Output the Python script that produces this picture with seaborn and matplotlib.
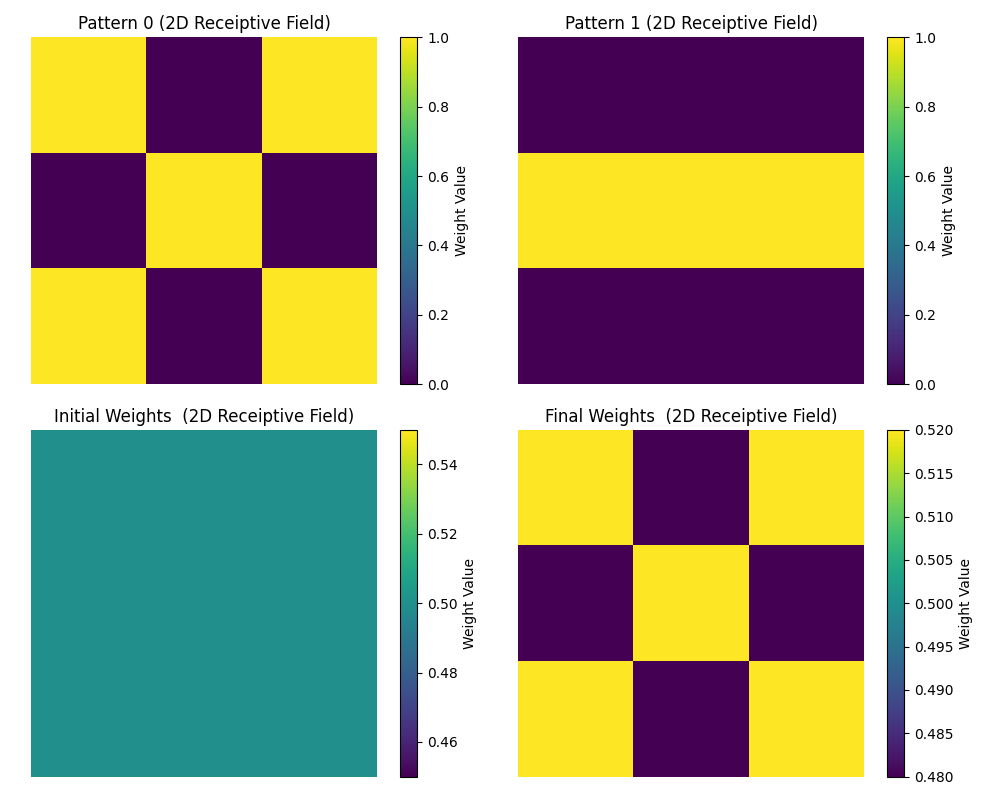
import numpy as np
import seaborn as sns
import matplotlib
matplotlib.use("Agg")
import matplotlib.pyplot as plt

# 3x3 receptive fields
pattern_0 = [[1, 0, 1],
             [0, 1, 0],
             [1, 0, 1]]
pattern_1 = [[0, 0, 0],
             [1, 1, 1],
             [0, 0, 0]]
initial_weights = [[0.5, 0.5, 0.5],
                   [0.5, 0.5, 0.5],
                   [0.5, 0.5, 0.5]]
final_weights = [[0.52, 0.48, 0.52],
                 [0.48, 0.52, 0.48],
                 [0.52, 0.48, 0.52]]

titles = ["Pattern 0 (2D Receiptive Field)",
          "Pattern 1 (2D Receiptive Field)",
          "Initial Weights  (2D Receiptive Field)",
          "Final Weights  (2D Receiptive Field)"]
limits = [(0, 1), (0, 1), (0.45, 0.55), (0.48, 0.52)]

fig, axes = plt.subplots(2, 2, figsize=(10, 8))
grids = [pattern_0, pattern_1, initial_weights, final_weights]

for ax, grid, title, (lo, hi) in zip(axes.flat, grids, titles, limits):
    sns.heatmap(np.array(grid), ax=ax, cmap="viridis", vmin=lo, vmax=hi,
                square=True, xticklabels=False, yticklabels=False,
                cbar_kws={"label": "Weight Value"})
    ax.set_title(title, fontsize=12)
    # seaborn hides the colorbar frame, the reference keeps it
    cbar = ax.collections[0].colorbar
    cbar.outline.set_visible(True)
    cbar.outline.set_edgecolor("black")
    cbar.outline.set_linewidth(0.8)

plt.tight_layout()
plt.savefig("out.png", dpi=100)
